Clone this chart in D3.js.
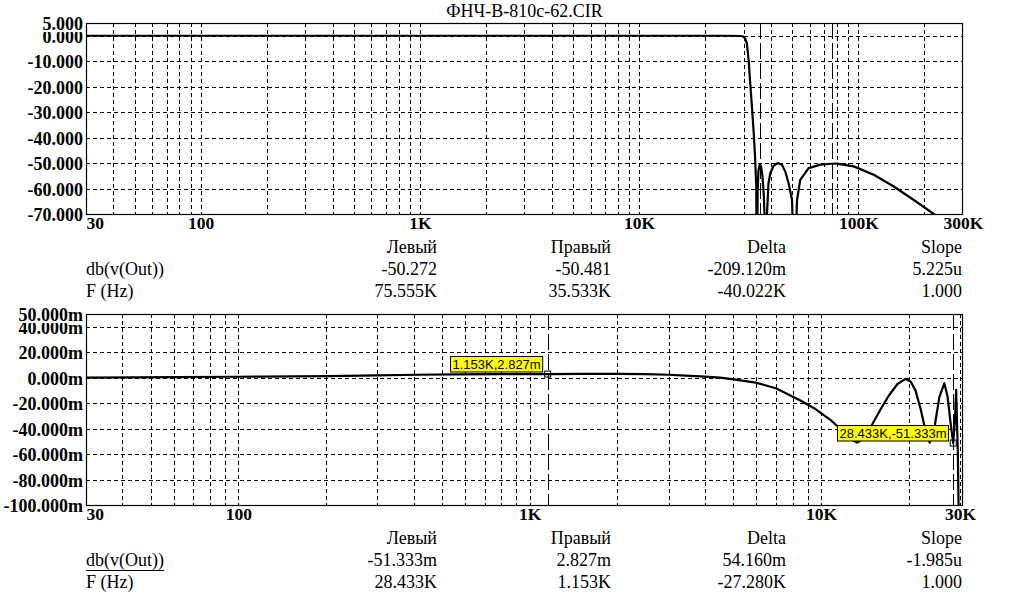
<!DOCTYPE html>
<html><head><meta charset="utf-8">
<script src="https://cdn.jsdelivr.net/npm/d3@7"></script>
</head>
<body style="margin:0">
<svg id="c" width="1012" height="603"></svg>
<script>
// ---------------- data ----------------
const title = "ФНЧ-В-810с-62.CIR";

// top chart: whole response, dB
const topFreq = [30, 1000, 10000, 25000, 29000, 29900, 30500, 31000, 31600, 32100, 32700, 33300, 33800, 34200, 34460,
  34700, 35000, 35533, 36000, 36500, 37000, 37500, 37900,
  38300, 38900, 39650, 41050, 42800, 44800, 46400, 48050, 49800, 51000,
  52500, 54300, 59300, 67100, 75555, 80000, 95200, 117500, 145000, 178900, 220700, 300000];
const topDb = [0, 0, 0, 0, -0.1, -0.3, -1.2, -3, -10, -18.5, -28, -38, -48, -59, -95,
  -62, -53, -50.481, -51.5, -55, -62, -75, -95,
  -70, -57.9, -54, -51.1, -50, -50.7, -53.3, -57.9, -64.4, -95,
  -64.5, -56.6, -52, -50.6, -50.272, -50.25, -51.3, -54.6, -59.2, -64.5, -70, -78];

// bottom chart: passband detail, mdB
const botFreq = [30, 44, 60, 100, 120, 206, 300, 411, 555, 800, 1153, 1500, 2000, 2500, 3000, 3430, 4000, 4500, 5020, 5970,
  7000, 8500, 9470, 10800, 11850, 12600, 13300, 14000, 14970, 16000, 17100, 18300, 19500, 20300, 21100, 22000, 22600,
  23600, 24600, 25500, 26500, 27200, 27900, 28433, 28800, 29100, 29500, 29900];
const botMdb = [0, 0.2, 0.4, 0.7, 0.8, 1.2, 1.8, 2.3, 2.6, 2.8, 2.827, 2.9, 2.9, 2.8, 2.3, 1.6, 0.8, 0, -1.3, -3.9,
  -8.3, -17.9, -24, -33.3, -41.7, -48, -51, -48, -37, -25, -14, -5, -1, -3, -10, -25, -37,
  -51, -37, -15, -4.4, -15, -37, -51.333, -35, -9.6, -60, -160];

const topXTicks = [30, 100, 1000, 10000, 100000, 300000];
const topXLabels = ["30", "100", "1K", "10K", "100K", "300K"];
const topYTicks = [5, 0, -10, -20, -30, -40, -50, -60, -70];
const botXTicks = [30, 100, 1000, 10000, 30000];
const botXLabels = ["30", "100", "1K", "10K", "30K"];
const botYTicks = [50, 40, 20, 0, -20, -40, -60, -80, -100];

const topCursorsHz = [75555, 35533];
const botCursorsHz = [28433, 1153];
const botCursorVals = [-51.333, 2.827];
const botCursorLabels = ["28.433K,-51.333m", "1.153K,2.827m"];

const tableHead = ["Левый", "Правый", "Delta", "Slope"];
const topTableRows = [["db(v(Out))", "-50.272", "-50.481", "-209.120m", "5.225u"],
                      ["F (Hz)", "75.555K", "35.533K", "-40.022K", "1.000"]];
const botTableRows = [["db(v(Out))", "-51.333m", "2.827m", "54.160m", "-1.985u"],
                      ["F (Hz)", "28.433K", "1.153K", "-27.280K", "1.000"]];

// ---------------- drawing ----------------
const svg = d3.select("#c");
const L = 86, R = 963;

function panel(o) {
  const g = svg.append("g");
  const x = o.x, y = o.y;
  const [t, b] = [y.range()[1], y.range()[0]];
  const id = "clip" + o.name;
  svg.append("clipPath").attr("id", id).append("rect")
    .attr("x", L).attr("y", t).attr("width", R - L).attr("height", b - t);

  const vg = x.ticks().filter(d => x(d) > L + 1 && x(d) < R - 1);
  g.append("g").selectAll("line").data(vg).join("line")
    .attr("x1", d => Math.round(x(d)) + 0.5).attr("x2", d => Math.round(x(d)) + 0.5)
    .attr("y1", t).attr("y2", b)
    .attr("stroke", "#000").attr("stroke-width", 1).attr("stroke-dasharray", "4,3");
  const hg = o.yTicks.filter(d => y(d) > t + 1 && y(d) < b - 1);
  g.append("g").selectAll("line").data(hg).join("line")
    .attr("y1", d => Math.round(y(d)) + 0.5).attr("y2", d => Math.round(y(d)) + 0.5)
    .attr("x1", L).attr("x2", R)
    .attr("stroke", "#000").attr("stroke-width", 1).attr("stroke-dasharray", "4,3");

  g.append("g").selectAll("line").data(o.cursors).join("line")
    .attr("x1", d => Math.round(x(d)) + 0.5).attr("x2", d => Math.round(x(d)) + 0.5)
    .attr("y1", t).attr("y2", b)
    .attr("stroke", "#000").attr("stroke-width", 1).attr("stroke-dasharray", "16,4");

  const pts = o.freq.map((f, i) => [f, o.vals[i]]);
  g.append("path").datum(pts)
    .attr("clip-path", `url(#${id})`)
    .attr("fill", "none").attr("stroke", "#000").attr("stroke-width", 2.2)
    .attr("stroke-linejoin", "round")
    .attr("d", d3.line().x(d => x(d[0])).y(d => y(d[1])));

  g.append("rect").attr("x", L + 0.5).attr("y", t + 0.5).attr("width", R - L - 1).attr("height", b - t)
    .attr("fill", "none").attr("stroke", "#000").attr("stroke-width", 1.2);

  // y axis (no textLength this time)
  const ya = g.append("g").attr("transform", `translate(${L - 3},0)`)
    .call(d3.axisLeft(y).tickValues(o.yTicks).tickSize(0).tickPadding(0).tickFormat(o.yFmt));
  ya.select(".domain").remove();
  ya.attr("font-family", "Times New Roman").attr("font-size", 18).attr("font-weight", "bold");
  ya.selectAll("text").attr("fill", "#000").attr("dy", "0.36em");
  const first = ya.selectAll(".tick").filter((d, i) => i === 0);
  const bb = first.select("text").node().getBBox();
  first.insert("rect", "text").attr("x", bb.x - 2).attr("y", bb.y + 2)
    .attr("width", bb.width + 4).attr("height", bb.height - 4).attr("fill", "#fff");
  first.raise();

  // x axis
  const xa = g.append("g").attr("transform", `translate(0,${b + 3})`)
    .call(d3.axisBottom(x).tickValues(o.xTicks).tickSize(0).tickPadding(0)
      .tickFormat((d, i) => o.xLabels[i]));
  xa.select(".domain").remove();
  xa.attr("font-family", "Times New Roman").attr("font-size", 17.5).attr("font-weight", "bold");
  xa.selectAll("text").attr("fill", "#000").attr("dy", "0.71em");
  xa.selectAll("text").filter((d, i) => i === 0).attr("text-anchor", "start").attr("x", 0);
  return g;
}

svg.append("text").attr("x", (L + R) / 2).attr("y", 16.5).attr("text-anchor", "middle")
  .attr("font-family", "Liberation Serif").attr("font-size", 18).text(title);

const topX = d3.scaleLog().domain([30, 300000]).range([L, R]);
const topY = d3.scaleLinear().domain([-70, 5]).range([214, 23]);
panel({name: "t", x: topX, y: topY, freq: topFreq, vals: topDb, yTicks: topYTicks,
  yFmt: d => d.toFixed(3), xTicks: topXTicks, xLabels: topXLabels, cursors: topCursorsHz});

const botX = d3.scaleLog().domain([30, 30000]).range([L, 960]);
const botY = d3.scaleLinear().domain([-100, 50]).range([505, 314]);
panel({name: "b", x: botX, y: botY, freq: botFreq, vals: botMdb, yTicks: botYTicks,
  yFmt: d => d.toFixed(3) + "m", xTicks: botXTicks, xLabels: botXLabels, cursors: botCursorsHz});

// cursor markers and labels (bottom)
botCursorsHz.forEach((f, i) => {
  const cx = botX(f), cy = botY(botCursorVals[i]);
  const lg = svg.append("g");
  const tx = lg.append("text").attr("font-family", "Liberation Sans").attr("font-size", 13)
    .text(botCursorLabels[i]);
  const w = tx.node().getComputedTextLength();
  const bx = Math.round(cx - 4 - w - 5), by = Math.round(cy - 18);
  lg.insert("rect", "text").attr("x", bx + 0.5).attr("y", by + 0.5).attr("width", w + 4).attr("height", 15.5)
    .attr("fill", "#ffff00").attr("stroke", "#000").attr("stroke-width", 1);
  tx.attr("x", bx + 2.5).attr("y", by + 12.5);
  lg.append("rect").attr("x", cx - 3).attr("y", cy - 3).attr("width", 6).attr("height", 6)
    .attr("fill", "none").attr("stroke", "#000").attr("stroke-width", 1);
});

// tables
const colX = [437, 611, 786, 962];
function table(rows, y0, underline, fam) {
  const g = svg.append("g").style("font-family", fam).style("font-size", "18px");
  g.selectAll("text.h").data(tableHead).join("text").attr("class", "h")
    .attr("x", (d, i) => colX[i]).attr("y", y0).attr("text-anchor", "end").text(d => d);
  rows.forEach((r, j) => {
    const yy = y0 + 22 * (j + 1);
    const lab = g.append("text").attr("x", L).attr("y", yy).text(r[0]);
    g.selectAll("text.r" + j).data(r.slice(1)).join("text").attr("class", "r" + j)
      .attr("x", (d, i) => colX[i]).attr("y", yy).attr("text-anchor", "end").text(d => d);
    if (underline && j === 0) {
      const w = lab.node().getComputedTextLength();
      g.append("line").attr("x1", L).attr("x2", L + w).attr("y1", yy + 4.5).attr("y2", yy + 4.5)
        .attr("stroke", "#000").attr("stroke-width", 1);
    }
  });
}
table(topTableRows, 253, false, "'Liberation Serif', monospace");
table(botTableRows, 544, true, "Tinos, 'Liberation Serif', serif");
</script>
</body></html>
